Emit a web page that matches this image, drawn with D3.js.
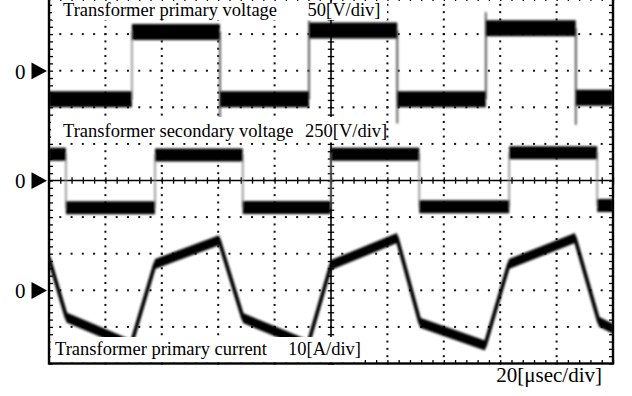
<!DOCTYPE html>
<html><head><meta charset="utf-8">
<script src="https://cdn.jsdelivr.net/npm/d3@7"></script>
<style>
html,body{margin:0;padding:0;background:#fff;}
svg{display:block;}
text{font-family:"Liberation Serif","Times New Roman",serif;fill:#000;}
</style></head>
<body>
<svg id="c" width="632" height="396"></svg>
<script>
// ---------- data (time in microseconds) ----------
const timeDomain = [0, 200];            // 10 div x 20 usec/div
const timeUnitLabel = "20[\u03bcsec/div]";

// channel settings
const channelNames = ["Transformer primary voltage", "Transformer secondary voltage", "Transformer primary current"];
const channelUnits = ["50[V/div]", "250[V/div]", "10[A/div]"];
const channelPerDiv = [50, 250, 10];
const channelZeroDiv = [3, 0, -3];       // zero marker position in divisions

// primary voltage (step waveform)
const priT = [0, 29.4, 60.6, 92.2, 123.5, 154.9, 186.8, 200];
const priV = [-39, 53, -39, 55, -39, 58, -37, -37];
const priSpikeT = [60.6, 92.2, 123.5, 154.9, 186.8];
const priSpikeFrom = [53, -39, 55, -39, 58];
const priSpikeTo = [-66, 69, -72, 80, -74];

// secondary voltage (step waveform)
const secT = [0, 6.0, 37.6, 68.7, 99.9, 131.3, 163.2, 194.4, 200];
const secV = [180, -186, 174, -184, 180, -180, 190, -170, -170];

// primary current (piecewise linear)
const curT = [0, 6.2, 29.1, 37.6, 60.3, 68.8, 91.8, 100, 123.4, 131.6, 154.6, 163.1, 186.5, 195, 200];
const curA = [8.8, -7.4, -14.9, 7.2, 13.7, -7.6, -14.9, 6.9, 14.3, -8.9, -15.1, 7.2, 14.3, -8.6, -10.5];

// ---------- layout ----------
const L = 49, R = 613, T = -2.5, B = 363.5;
const svg = d3.select("#c");
const x = d3.scaleLinear().domain(timeDomain).range([L, R]);
const yDiv = d3.scaleLinear().domain([-5, 5]).range([B, T]);
const chY = i => d3.scaleLinear()
  .domain([(-5 - channelZeroDiv[i]) * channelPerDiv[i], (5 - channelZeroDiv[i]) * channelPerDiv[i]])
  .range([B, T]);

const defs = svg.append("defs");
defs.append("clipPath").attr("id", "clip").append("rect")
  .attr("x", L).attr("y", T).attr("width", R - L).attr("height", B - T);
defs.append("filter").attr("id", "fuzz").attr("x", "-5%").attr("y", "-20%").attr("width", "110%").attr("height", "140%")
  .append("feGaussianBlur").attr("stdDeviation", 0.9);

// ---------- dotted grid ----------
const majorT = d3.range(20, 200, 20).filter(t => t !== 100);
const majorD = d3.range(-4, 5, 1).filter(d => d !== 0);
const minorT = d3.range(0, 200.001, 4);
const minorD = d3.range(-5, 5.001, 0.2);
const grid = svg.append("g").attr("fill", "#111");
majorT.forEach(t => minorD.forEach(d => {
  grid.append("rect").attr("x", x(t) - 1).attr("y", yDiv(d) - 1).attr("width", 2).attr("height", 2);
}));
majorD.forEach(d => minorT.forEach(t => {
  grid.append("rect").attr("x", x(t) - 1).attr("y", yDiv(d) - 1).attr("width", 2).attr("height", 2);
}));

// ---------- center axes and border ticks (d3 axes) ----------
const ticksT = d3.range(0, 200.001, 4);
const ticksD = d3.range(-5, 5.001, 0.2);
function axisG(axis, tx, ty) {
  const g = svg.append("g").attr("transform", `translate(${tx},${ty})`).call(axis);
  g.select(".domain").remove();
  g.selectAll("text").remove();
  g.selectAll(".tick line").attr("stroke", "#000").attr("stroke-width", 1.3);
  return g;
}
axisG(d3.axisBottom(x).tickValues(ticksT).tickSize(3.2).tickFormat(""), 0, yDiv(0));
axisG(d3.axisTop(x).tickValues(ticksT).tickSize(3.2).tickFormat(""), 0, yDiv(0));
axisG(d3.axisLeft(yDiv).tickValues(ticksD).tickSize(3.2).tickFormat(""), x(100), 0);
axisG(d3.axisRight(yDiv).tickValues(ticksD).tickSize(3.2).tickFormat(""), x(100), 0);
axisG(d3.axisRight(yDiv).tickValues(ticksD).tickSize(4).tickFormat(""), L, 0);
axisG(d3.axisLeft(yDiv).tickValues(ticksD).tickSize(4).tickFormat(""), R, 0);
axisG(d3.axisTop(x).tickValues(ticksT).tickSize(3.5).tickFormat(""), 0, B);
axisG(d3.axisBottom(x).tickValues(ticksT).tickSize(3.5).tickFormat(""), 0, T);
svg.append("line").attr("x1", L).attr("x2", R).attr("y1", yDiv(0)).attr("y2", yDiv(0)).attr("stroke", "#000").attr("stroke-width", 1.6);
svg.append("line").attr("x1", x(100)).attr("x2", x(100)).attr("y1", T).attr("y2", B).attr("stroke", "#000").attr("stroke-width", 1.6);

// ---------- waveforms ----------
const wave = svg.append("g").attr("clip-path", "url(#clip)");
const wf = wave.append("g").attr("filter", "url(#fuzz)");

// primary voltage
{
  const y = chY(0);
  const pts = priT.map((t, i) => [t, priV[i]]);
  wf.append("path").datum(pts)
    .attr("d", d3.line().x(d => x(d[0])).y(d => y(d[1])).curve(d3.curveStepAfter))
    .attr("fill", "none").attr("stroke", "#8a8a8a").attr("stroke-width", 1.6);
  priSpikeT.forEach((t, i) => {
    wf.append("line").attr("x1", x(t)).attr("x2", x(t))
      .attr("y1", y(priSpikeFrom[i])).attr("y2", y(priSpikeTo[i]))
      .attr("stroke", "#555").attr("stroke-width", 1.8);
  });
  wf.append("path").datum(pts)
    .attr("d", d3.area().x(d => x(d[0])).y0(d => y(d[1]) - 8).y1(d => y(d[1]) + 8).curve(d3.curveStepAfter))
    .attr("fill", "#000");
}
// secondary voltage
{
  const y = chY(1);
  const pts = secT.map((t, i) => [t, secV[i]]);
  wf.append("path").datum(pts)
    .attr("d", d3.line().x(d => x(d[0])).y(d => y(d[1])).curve(d3.curveStepAfter))
    .attr("fill", "none").attr("stroke", "#8a8a8a").attr("stroke-width", 1.6);
  wf.append("path").datum(pts)
    .attr("d", d3.area().x(d => x(d[0])).y0(d => y(d[1]) - 6.5).y1(d => y(d[1]) + 6.5).curve(d3.curveStepAfter))
    .attr("fill", "#000");
}
// primary current
{
  const y = chY(2);
  const pts = curT.map((t, i) => [t, curA[i]]);
  wf.append("path").datum(pts)
    .attr("d", d3.area().x(d => x(d[0])).y0(d => y(d[1]) - 5).y1(d => y(d[1]) + 5))
    .attr("fill", "#000");
  wf.append("path").datum(pts)
    .attr("d", d3.line().x(d => x(d[0])).y(d => y(d[1])))
    .attr("fill", "none").attr("stroke", "#000").attr("stroke-width", 3.8).attr("stroke-linejoin", "round");
}

// ---------- label boxes ----------
const fs = 18.5;
function label(bx, by, bw, bh, name, nx, unit, ux, base) {
  svg.append("rect").attr("x", bx).attr("y", by).attr("width", bw).attr("height", bh).attr("fill", "#fff");
  svg.append("text").attr("x", nx).attr("y", base).attr("font-size", fs).text(name);
  svg.append("text").attr("x", ux).attr("y", base).attr("font-size", fs).text(unit);
}
label(52, 3, 335, 17, channelNames[0], 63, channelUnits[0], 307.5, 16);
label(51, 117, 334, 25.5, channelNames[1], 63, channelUnits[1], 305, 136.5);
label(50.5, 337, 312.5, 25.5, channelNames[2], 55, channelUnits[2], 288, 355);

// frame
svg.append("rect").attr("x", L).attr("y", T).attr("width", R - L).attr("height", B - T)
  .attr("fill", "none").attr("stroke", "#000").attr("stroke-width", 2.4);

// ---------- zero markers ----------
channelZeroDiv.forEach(d => {
  const yy = yDiv(d);
  svg.append("text").attr("x", 15).attr("y", yy + 7.8).attr("font-size", 21).text("0");
  svg.append("path").attr("d", `M31.5,${yy - 8.2}L47,${yy + 0.3}L31.5,${yy + 8.6}Z`).attr("fill", "#000");
});

// time scale label
svg.append("text").attr("x", 602).attr("y", 381.5).attr("font-size", 21).attr("text-anchor", "end").text(timeUnitLabel);
</script>
</body></html>
